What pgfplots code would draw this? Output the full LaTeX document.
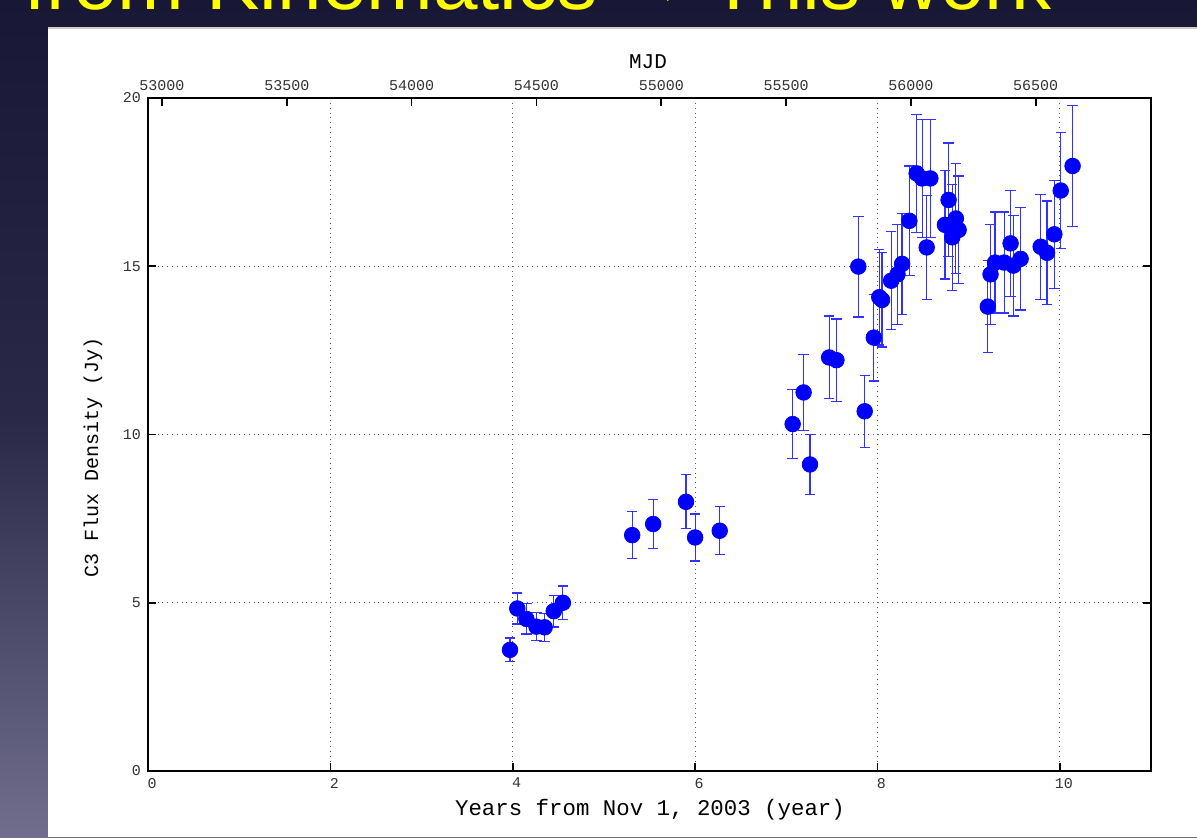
\documentclass[border=0pt]{standalone}
\usepackage{fontspec}
\usepackage{pgfplots}
\usepackage{pgfplotstable}
\pgfplotsset{compat=1.18}
\newfontfamily\monof{Liberation Mono}
\newfontfamily\titlef{Liberation Sans}
\newfontfamily\arrowf{DejaVu Sans}
\definecolor{navy}{RGB}{24,24,54}
\definecolor{slate}{RGB}{112,110,140}
\definecolor{ptblue}{RGB}{0,0,255}
\definecolor{errblue}{RGB}{50,50,255}
\definecolor{ttitle}{RGB}{255,255,0}

\pgfplotstableread{
x y e
3.97 3.60 0.35
4.05 4.83 0.46
4.15 4.52 0.45
4.26 4.29 0.42
4.35 4.27 0.42
4.45 4.75 0.47
4.55 5.00 0.50
5.31 7.01 0.70
5.54 7.34 0.73
5.90 8.00 0.80
6.00 6.94 0.70
6.27 7.14 0.71
7.07 10.31 1.02
7.19 11.25 1.12
7.26 9.11 0.90
7.47 12.29 1.23
7.55 12.21 1.22
7.79 14.99 1.50
7.86 10.69 1.07
7.96 12.88 1.29
8.02 14.08 1.42
8.05 14.00 1.40
8.15 14.57 1.46
8.22 14.76 1.48
8.27 15.07 1.50
8.35 16.35 1.63
8.43 17.76 1.76
8.49 17.61 1.75
8.54 15.56 1.55
8.58 17.61 1.75
8.74 16.23 1.61
8.78 16.97 1.69
8.82 15.86 1.58
8.86 16.42 1.64
8.89 16.08 1.60
9.21 13.80 1.37
9.24 14.76 1.48
9.29 15.11 1.50
9.39 15.11 1.50
9.46 15.68 1.57
9.49 15.02 1.50
9.57 15.22 1.52
9.79 15.58 1.56
9.86 15.40 1.54
9.94 15.95 1.60
10.01 17.25 1.72
10.14 17.98 1.79
}\fluxdata

\begin{document}
\begin{tikzpicture}
\useasboundingbox (0pt,0pt) rectangle (598.5pt,418.5pt);
\clip (0pt,0pt) rectangle (598.5pt,418.5pt);
\begin{scope}[x=0.5pt,y=0.5pt]
\shade[top color=navy, bottom color=slate, middle color=navy!80!slate] (0,0) rectangle (1197,837);
\fill[white] (48,0) rectangle (1197,809);
\draw[black!20, line width=0.8pt] (48,809) -- (1197,809);
\node[anchor=base east, inner sep=0pt, text=ttitle, font=\titlef\fontsize{40}{40}\selectfont] at (1052,827) {from Kinematics {\arrowf→} This work};
\end{scope}

\begin{axis}[
  at={(74pt,33pt)}, anchor=south west,
  scale only axis, width=501.5pt, height=336.5pt,
  xmin=0, xmax=11, ymin=0, ymax=20,
  xtick={0,2,...,10}, ytick={0,5,...,20},
  xtick pos=bottom, ytick pos=both,
  tick align=inside, major tick length=4pt,
  grid=major, grid style={dotted, black!65, line width=0.6pt},
  axis line style={line width=1pt},
  tick style={black, line width=0.8pt},
  /pgf/number format/assume math mode=true,
  ticklabel style={font=\monof\fontsize{7.5}{9}\selectfont, text=black!80},
  xticklabel style={xshift=2pt},
  xlabel={Years from Nov 1, 2003 (year)},
  ylabel={C3 Flux Density (Jy)},
  xlabel style={font=\monof\fontsize{11.2}{13}\selectfont, at={(axis description cs:0.5005,-0.058)}, anchor=center},
  ylabel style={font=\monof\fontsize{10}{12}\selectfont, at={(axis description cs:-0.0548,0.4666)}, anchor=center},
]
\addplot[only marks, mark=*, mark size=3.9pt, mark options={fill=ptblue, draw=ptblue},
  error bars/.cd, y dir=both, y explicit,
  error mark=-,
  error bar style={errblue, line width=0.6pt},
  error mark options={rotate=90, errblue, mark size=2.6pt, line width=0.6pt}]
  table[x=x, y=y, y error=e] {\fluxdata};
\end{axis}

\begin{axis}[
  at={(74pt,33pt)}, anchor=south west,
  scale only axis, width=501.5pt, height=336.5pt,
  xmin=52944, xmax=56961.75, ymin=0, ymax=20,
  axis x line*=top, axis y line=none,
  xtick={53000,53500,...,56500},
  scaled x ticks=false,
  tick align=inside, major tick length=4pt,
  axis line style={line width=1pt, -},
  tick style={black, line width=0.8pt},
  /pgf/number format/assume math mode=true,
  /pgf/number format/1000 sep={},
  ticklabel style={font=\monof\fontsize{7.5}{9}\selectfont, text=black!80},
  xlabel={MJD},
  xlabel style={font=\monof\fontsize{10.5}{12}\selectfont, at={(axis description cs:0.4985,1.0535)}, anchor=center},
]
\addplot[draw=none] coordinates {(53000,0)};
\end{axis}
\end{tikzpicture}
\end{document}
